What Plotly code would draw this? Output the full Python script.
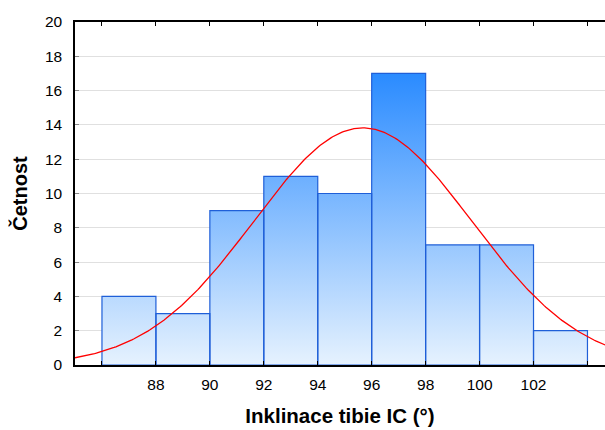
import numpy as np
import plotly.graph_objects as go

bin_edges = [86, 88, 90, 92, 94, 96, 98, 100, 102, 104]
counts = [4, 3, 9, 11, 10, 17, 7, 7, 2]
x_tickvals = [86, 88, 90, 92, 94, 96, 98, 100, 102, 104]
x_ticktext = ["", "88", "90", "92", "94", "96", "98", "100", "102", ""]
y_tickvals = [0, 2, 4, 6, 8, 10, 12, 14, 16, 18, 20]
fit_mean = 95.67
fit_sd = 4.04

n_total = sum(counts)
bw = bin_edges[1] - bin_edges[0]

fig = go.Figure()

xs, ys = [], []
for i, c in enumerate(counts):
    x0, x1 = bin_edges[i], bin_edges[i + 1]
    xs += [x0, x0, x1, x1, x0, None]
    ys += [0, c, c, 0, 0, None]

fig.add_trace(go.Scatter(
    x=xs, y=ys, mode="lines", fill="toself",
    line=dict(color="#1f5fd8", width=1.2),
    fillgradient=dict(type="vertical", start=0, stop=17,
                      colorscale=[[0, "#e6f2fe"], [1, "#2a8bff"]]),
    hoverinfo="skip", showlegend=False,
))

xc = np.linspace(85, 104.7, 300)
yc = n_total * bw / (fit_sd * np.sqrt(2 * np.pi)) * np.exp(-0.5 * ((xc - fit_mean) / fit_sd) ** 2)
fig.add_trace(go.Scatter(x=xc, y=yc, mode="lines", line=dict(color="#ff0000", width=1.3),
                         hoverinfo="skip", showlegend=False))

fig.update_layout(
    width=605, height=430,
    margin=dict(l=75, r=0, t=22, b=65),
    plot_bgcolor="white", paper_bgcolor="white",
    font=dict(family="Liberation Sans, Arial", size=15.5, color="black"),
    xaxis=dict(range=[85, 104.65], tickvals=x_tickvals, ticktext=x_ticktext,
               showgrid=False, zeroline=False, showline=True, linecolor="black",
               linewidth=1.5, ticks="inside", ticklen=4, tickcolor="black",
               mirror="ticks", ticklabelstandoff=5,
               title=dict(text="<b>Inklinace tibie IC (°)</b>", font=dict(size=20.5), standoff=16)),
    yaxis=dict(range=[0, 20], tickvals=y_tickvals, showgrid=True, gridcolor="#e0e0e0",
               zeroline=False, showline=True, linecolor="black", linewidth=1.5,
               ticks="inside", ticklen=4, tickcolor="#888888", ticklabelstandoff=8,
               title=dict(text="<b>Četnost</b>", font=dict(size=20), standoff=12)),
)

fig.write_html("out.html")
